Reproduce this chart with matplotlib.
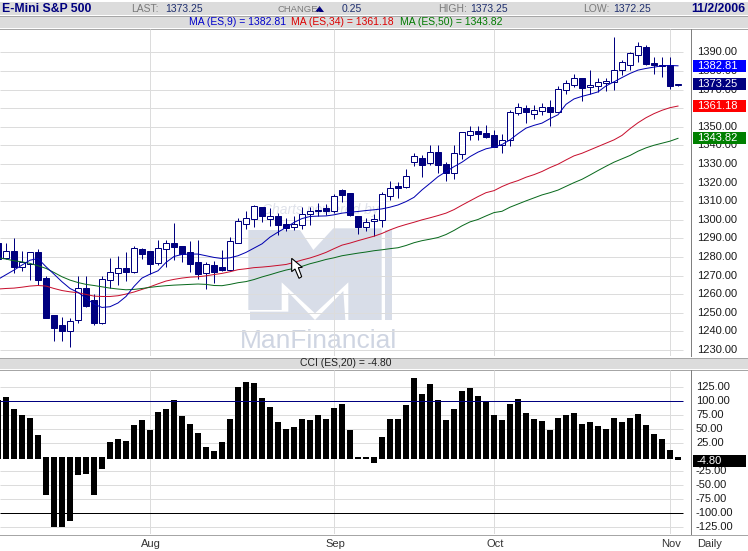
import numpy as np
import matplotlib
matplotlib.use("Agg")
import matplotlib.pyplot as plt
from matplotlib.patches import Polygon, Rectangle

plt.rcParams['font.family'] = ['Liberation Sans', 'DejaVu Sans']

# ---------- data (bar index -1 .. 84) ----------
opens = [1287.5,1279.4,1283,1274.4,1276.2,1282.5,1269,1248.6,1243.3,1240,1246,1263.1,1256.7,1244.3,1267.4,1271.2,1273.9,1271.7,1284.1,1283.2,1276.6,1284.1,1287.8,1286.2,1282.5,1277.1,1271.2,1275.5,1274.9,1272.8,1287.6,
         1298,1300.4,1306.8,1300.7,1302,1297.7,1296.1,1297.1,1303,1305.4,1306.3,1304.6,1315.9,1314.3,1302.3,1296.1,1299.3,1299.8,1312.7,1318,1317.5,1330.9,1333.4,1330.4,1336.3,1329.8,1325,1335.2,
         1345.7,1347.5,1346.8,1345.7,1340,1343,1357.4,1360.3,1357.1,1358.7,1360.8,1358.1,1370,1372.7,1376,1371.5,1372.2,1373.8,1374.2,1380.3,1383.5,1388.4,1392.7,1384.1,1383.5,1383,1372.25]
closes = [1279.2,1283,1274.8,1277.4,1282.5,1267.8,1247.4,1242,1240.4,1245.8,1263.1,1253.8,1244.7,1268,1271.7,1273.9,1272.1,1284.6,1281.7,1276.4,1284.6,1287.8,1285.5,1281.4,1276.4,1271,1276,1272.1,1273.2,1288.4,1299.6,
          1300.9,1307.3,1301.8,1301.8,1297,1295.4,1297.5,1303.2,1305,1304.5,1305,1312.7,1313.6,1302.5,1295.9,1299.1,1300.4,1313.8,1317.3,1317.3,1323.4,1334.1,1329.6,1336.3,1329.6,1325.2,1335.7,1347,
          1347.5,1346.1,1344.6,1339.4,1342.8,1358.1,1360.8,1358.1,1359.2,1360.8,1358.1,1370.6,1373.3,1376,1370.9,1372.7,1374.3,1374.9,1380.8,1384.6,1389.5,1393.2,1383.9,1383,1382.8,1372,1373.25]
highs = [1290,1287.8,1290.5,1283.4,1282.8,1284.2,1269.6,1248.6,1247.6,1247,1269.6,1269.6,1260.4,1269.6,1279.4,1280.5,1282.5,1286,1284.8,1283.2,1289.1,1289.3,1298.2,1286.2,1288.4,1288.9,1277.6,1278,1283.7,1291,1300.9,
         1304.8,1308,1306.8,1306.3,1303.6,1300.9,1301.8,1306.8,1306.8,1308.9,1308.6,1313.9,1316.6,1314.3,1302.3,1300.9,1303.2,1315.2,1320.9,1320.2,1327.1,1336.1,1334.8,1340.2,1340.2,1331.3,1340.2,1347,
         1350.2,1350.2,1350.8,1348.4,1346.3,1358.9,1363,1361.6,1361.6,1363,1364.3,1372.2,1375.1,1378.3,1376,1380.5,1376,1376.5,1398.5,1386.2,1390,1395.6,1393.8,1387.3,1387.3,1387.3,1373.25]
lows = [1278,1278.9,1271.2,1272.6,1267.8,1264.9,1247,1235,1235,1231.4,1244.3,1252.9,1243.6,1244,1263.1,1264.9,1267.2,1271.4,1278.9,1270.8,1275.8,1274.4,1278.3,1277.4,1271.7,1268.1,1262.8,1266,1272.6,1272.4,1287.3,
        1295.2,1296.4,1298.6,1296.8,1291.6,1293.8,1294.6,1295,1297,1301.8,1302.7,1303.6,1309.8,1301.8,1292.5,1293.8,1291.4,1296.4,1310.7,1311.6,1317,1329.1,1322.9,1329.5,1325.4,1321.1,1321.8,1332.8,
        1343,1342.7,1344.1,1339.1,1335.8,1339.8,1356.2,1352,1354,1356.2,1350.2,1357.8,1367.5,1371.5,1363.7,1367.5,1368.8,1369.1,1370,1377.8,1380.8,1384.6,1383.5,1378.3,1376.9,1370.6,1372]
ma9 = [1268,1270.5,1273,1275.7,1278.3,1279.2,1274.8,1270.8,1266.7,1263.1,1261,1257.9,1254.7,1252.9,1253.3,1255.3,1258.8,1264.2,1268.7,1270.8,1272.6,1277.1,1280.3,1281.4,1281.6,1281.6,1280.7,1279.8,1279.2,1279.6,1280.7,
       1282.5,1284.8,1287.1,1290.7,1293.4,1295.9,1298.6,1300.7,1301.8,1302,1302.1,1302.7,1303.6,1304.1,1304.5,1305,1305.4,1305.9,1306.8,1308,1309.8,1312.1,1316.1,1319.6,1323.2,1325.9,1328.6,1331,
       1334,1336.4,1338.2,1339.1,1340.5,1343,1346.3,1349.3,1350.8,1352,1354.4,1356.5,1362.1,1365,1366.4,1367.5,1368.8,1372,1374.2,1376.5,1378.7,1380.5,1381.4,1382.1,1382.8,1383,1382.81]
ma34 = [1262.8,1263.1,1263.3,1263.8,1264.4,1264.7,1264.4,1263.1,1262,1261.3,1260.8,1259.9,1259,1258.8,1258.8,1259.2,1260.1,1261.2,1262.6,1264,1265.6,1267.1,1268,1268.7,1269.2,1269.4,1269.9,1270.6,1271.2,1272.1,1273.2,
        1273.7,1274.3,1274.6,1275,1275.5,1276,1277.1,1278.4,1279.5,1280.9,1282.5,1284.5,1286.4,1287.5,1288.8,1290,1291.2,1292.7,1294.6,1296.2,1297.5,1298.7,1300,1301.1,1302.3,1303.6,1305.5,1307.9,
        1310.2,1312.5,1314.6,1315.7,1317.9,1319.7,1321.1,1322.9,1324.3,1326,1328.1,1329.9,1332.2,1334.4,1335.8,1337.6,1339.4,1341.2,1343,1345.4,1349,1352.2,1354.9,1357.1,1358.9,1360.3,1361.18]
ma50 = [1279.6,1278.9,1278,1277.4,1276.6,1275.3,1273.9,1271.7,1269.4,1267.6,1266.3,1265.3,1264.7,1264,1263.3,1262.8,1262.4,1262.6,1263.1,1263.7,1264.2,1264.6,1264.9,1265.1,1265.3,1265.5,1265.3,1264.7,1264.6,1265.3,1266.2,
        1266.8,1267.9,1269.3,1270.5,1271.8,1273,1273.9,1275,1276.4,1277.5,1278.7,1279.6,1280.7,1281.4,1282.1,1282.7,1283.4,1283.9,1284.5,1285,1286.2,1287.7,1288.8,1289.6,1290.5,1292.1,1294.3,1296.8,
        1298.9,1300.2,1302.1,1303.9,1304.6,1306.8,1308.5,1310.2,1311.8,1313.4,1314.6,1316,1318,1320,1321.8,1324.1,1326.5,1328.8,1331,1332.8,1334.6,1336.9,1338.7,1340.1,1341.2,1342.3,1343.82]
cci = [102,108,86,75,70,40,-67,-125,-125,-113,-32,-30,-67,-21,27,33,29,58,67,49,81,86,102,74,59,43,18,11,27,68,125,134,133,106,90,63,51,54,68,67,75,68,88,95,49,
       -3,-3,-10,36,68,68,93,142,113,131,102,67,86,118,124,109,99,75,67,95,104,79,68,65,49,70,75,79,59,63,56,51,70,63,70,77,58,42,33,13,-4.8]
bar_index = np.arange(-1, 85)

price_ticks = list(range(1230, 1400, 10))
cci_ticks = [125, 100, 75, 50, 25, -25, -50, -75, -100, -125]
month_labels = ["Aug", "Sep", "Oct", "Nov"]
month_index = [18, 41, 61, 83]
last_labels = [("1382.81", 1382.81, "#0000ff"), ("1373.25", 1373.25, "#000080"),
               ("1361.18", 1361.18, "#ff0000"), ("1343.82", 1343.82, "#008000")]

# ---------- layout (figure pixels) ----------
W, H = 748, 551
fig = plt.figure(figsize=(W / 100, H / 100), dpi=100, facecolor="white")
def axes_px(l, t, r, b, z):
    return fig.add_axes([l / W, 1 - b / H, (r - l) / W, (b - t) / H], zorder=z)

bg = axes_px(0, 0, W, H, 0)
fg = axes_px(0, 0, W, H, 5)
for a in (bg, fg):
    a.set_xlim(0, W); a.set_ylim(H, 0); a.axis("off")

XLIM = (-0.75, 85.625)
GRID_END = 84.6
GRID = "#dcdcdc"
NAVY = "#00007f"
THIN = 0.72

ax = axes_px(0, 29, 691, 356, 2)
ax.patch.set_alpha(0)
ax.set_xlim(*XLIM)
ax.set_ylim(1226.8, 1402.6)
ax.axis("off")

ax2 = axes_px(0, 370, 691, 534, 2)
ax2.patch.set_alpha(0)
ax2.set_xlim(*XLIM)
ax2.set_ylim(-137, 155.9)
ax2.axis("off")

# ---------- price panel ----------
ax.hlines(price_ticks, XLIM[0], GRID_END, color=GRID, lw=THIN, zorder=1)
ax.vlines(month_index, *ax.get_ylim(), color=GRID, lw=THIN, zorder=1)

for i, o, h, l, c in zip(bar_index, opens, highs, lows, closes):
    ax.vlines(i, l, h, color=NAVY, lw=THIN, zorder=3)
    up = c >= o
    lo, hi = min(o, c), max(o, c)
    ax.add_patch(Rectangle((i - 0.34, lo), 0.68, hi - lo, facecolor="white" if up else NAVY,
                           edgecolor=NAVY, lw=THIN, zorder=4))

ax.plot(bar_index, ma34, color="#c8102e", lw=THIN, zorder=5)
ax.plot(bar_index, ma50, color="#0a6a1e", lw=THIN, zorder=5)
ax.plot(bar_index, ma9, color="#0000b0", lw=THIN, zorder=5)

# ---------- CCI panel ----------
ax2.hlines([t for t in cci_ticks if abs(t) != 100], XLIM[0], GRID_END, color=GRID, lw=THIN, zorder=1)
ax2.vlines(month_index, *ax2.get_ylim(), color=GRID, lw=THIN, zorder=1)
cci_arr = np.array(cci, dtype=float)
base = np.where(cci_arr > 0, -3.0, 0.0)
ax2.bar(bar_index, cci_arr - base, bottom=base, width=0.75, color="black", zorder=3)
ax2.hlines(100, XLIM[0], GRID_END, color="#000080", lw=THIN, zorder=4)
ax2.hlines(-100, XLIM[0], GRID_END, color="black", lw=THIN, zorder=4)

# ---------- chrome ----------
BAND = "#dcdcdc"; RULE = "#a6a6a6"
for y0, y1 in [(2, 15), (16, 28), (358, 369)]:
    bg.add_patch(Rectangle((0, y0), W, y1 - y0, facecolor=BAND, edgecolor="none"))
for y in (15.5, 28.5, 357.5, 369.5, 534.5, 550.5):
    bg.plot([0, W], [y, y], color=RULE, lw=THIN)
bg.plot([691.5, 691.5], [29, 356], color="#808080", lw=THIN)
bg.plot([691.5, 691.5], [370, 534], color="#808080", lw=THIN)

def txt(x, y, s, color="black", size=7.5, weight="normal", ha="left"):
    fg.text(x, y, s, color=color, fontsize=size, fontweight=weight, ha=ha, va="center")

GL = "#7a7a7a"; DB = "#1f2f6f"
txt(2, 9, "E-Mini S&P 500", NAVY, 8.8, "bold")
txt(131, 9, "LAST:", GL); txt(165, 9, "1373.25", DB)
txt(278, 9, "CHANGE:", GL, 6.8); txt(342, 9, "0.25", DB)
fg.add_patch(Polygon([(315, 12), (324, 12), (319.5, 6)], closed=True, facecolor=NAVY, edgecolor="none"))
txt(438, 9, "HIGH:", GL); txt(470, 9, "1373.25", DB)
txt(583, 9, "LOW:", GL); txt(613, 9, "1372.25", DB)
txt(745, 9, "11/2/2006", NAVY, 8.8, "bold", ha="right")
txt(189, 22, "MA (ES,9) = 1382.81", "#0000cc")
txt(291, 22, "MA (ES,34) = 1361.18", "#dd0000")
txt(400, 22, "MA (ES,50) = 1343.82", "#007a00")
txt(346, 363.5, "CCI (ES,20) = -4.80", "#222222", ha="center")

# right axis labels
px_price = lambda p: 29 + (1402.6 - p) * 1.86
px_cci = lambda v: 370 + (155.9 - v) * 0.56
for p in price_ticks:
    txt(697, px_price(p), f"{p:.2f}", "#1a1a1a", 8)
for v in cci_ticks:
    txt(696, px_cci(v), f"{v:.2f}", "#1a1a1a", 8)
for s, p, col in last_labels:
    yc = px_price(p)
    fg.add_patch(Rectangle((693, yc - 6), 53, 12, facecolor=col, edgecolor="none", zorder=3))
    fg.text(697, yc, s, color="white", fontsize=8, va="center", ha="left", zorder=4)
fg.add_patch(Rectangle((693, 455), 53, 12, facecolor="black", edgecolor="none", zorder=3))
fg.text(697, 461, "-4.80", color="white", fontsize=8, va="center", zorder=4)

# month labels
for s, i in zip(month_labels, month_index):
    txt(6 + 8 * i + 1, 544, s, "#333333", 8, ha="center")
txt(697, 544, "Daily", "#333333", 8)

# ---------- watermark and cursor (decoration, in pixel coordinates) ----------
WM = "#d8dde8"
z2p = lambda pts: [(200 + x / 3, 205 + y / 3) for x, y in pts]
bg.add_patch(Polygon(z2p([(145, 75), (300, 75), (340, 135), (400, 70), (545, 70), (545, 345), (445, 345),
                          (445, 232), (345, 325), (245, 232), (245, 315), (145, 315)]),
                     facecolor=WM, edgecolor="none"))
bg.add_patch(Polygon(z2p([(150, 320), (265, 320), (265, 262), (345, 345), (430, 258), (436, 345), (150, 345)]),
                     facecolor=WM, edgecolor="none"))
bg.add_patch(Rectangle((200 + 555 / 3, 205 + 75 / 3), 20 / 3, 270 / 3, facecolor=WM, edgecolor="none"))
bg.text(318.5, 341, "ManFinancial", color="#cfd5e2", fontsize=19, ha="center", va="center")
bg.text(320, 210, "Charts powered by", color="#dfe2ea", fontsize=10, style="italic", ha="center", va="center")

fg.add_patch(Polygon(z2p([(275, 160), (275, 200), (285, 192), (297, 220), (305, 215), (295, 188), (307, 187)]),
                     closed=True, facecolor="white", edgecolor="black", lw=0.8))

fig.savefig("out.png", dpi=100, facecolor="white")
